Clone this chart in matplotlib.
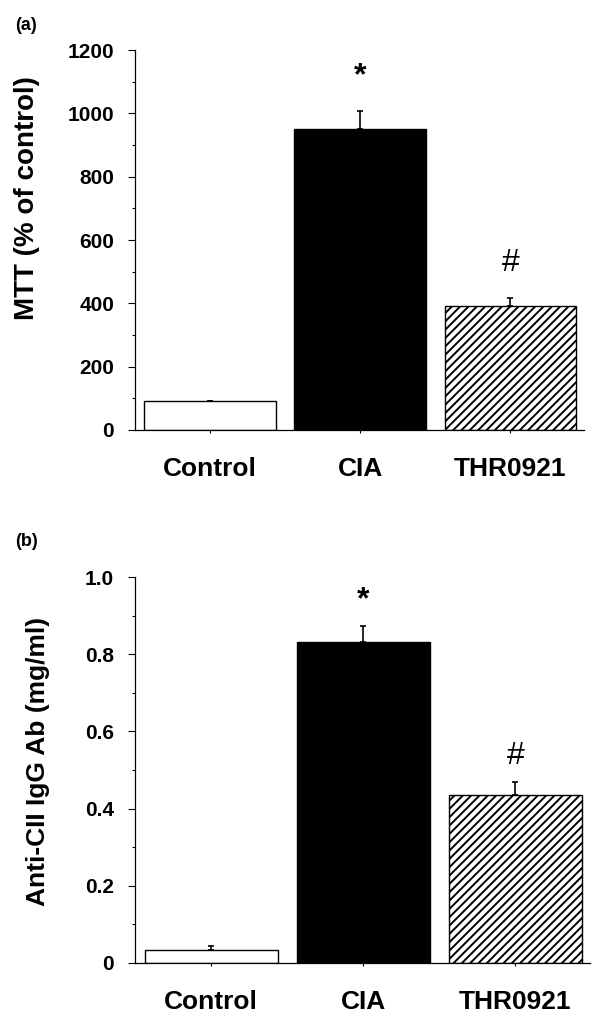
import matplotlib
matplotlib.use("Agg")
import matplotlib.pyplot as plt
from matplotlib.ticker import MultipleLocator

plt.rcParams['font.family'] = ['Liberation Sans', 'DejaVu Sans']
plt.rcParams['font.weight'] = 'bold'
plt.rcParams['hatch.linewidth'] = 1.4

groups = ["Control", "CIA", "THR0921"]

# panel (a): MTT (% of control)
mtt = [92, 952, 390]
mtt_err = [0, 56, 28]
mtt_marks = ["", "*", "#"]

# panel (b): anti-CII IgG Ab (mg/ml)
igg = [0.033, 0.832, 0.435]
igg_err = [0.010, 0.040, 0.035]
igg_marks = ["", "*", "#"]

fig = plt.figure(figsize=(6, 10.25), dpi=100)
ax1 = fig.add_axes([0.225, 0.5805, 0.748, 0.3707])
ax2 = fig.add_axes([0.225, 0.0605, 0.758, 0.3765])

colors = ["white", "black", "white"]
hatches = [None, None, "////"]


def draw(ax, vals, errs, marks, ylim, major, minor, ylabel, ylab_size,
         ylab_x, ylab_y, mark_pts, fmt):
    x = range(len(vals))
    for i in x:
        ax.bar(i, vals[i], width=0.875, color=colors[i], edgecolor="black",
               linewidth=1.0, hatch=hatches[i], zorder=2)
    ax.errorbar(list(x), vals, yerr=[[0] * len(errs), errs], fmt="none",
                ecolor="black", elinewidth=1.2, capsize=2.5, capthick=1.2, zorder=1)
    for i in x:
        if marks[i]:
            ax.annotate(marks[i], (i, vals[i] + errs[i]), xytext=(0, mark_pts),
                        textcoords="offset points", ha="center", va="baseline",
                        fontsize=23,
                        fontweight="bold" if marks[i] == "*" else "normal")
    ax.set_xlim(-0.5, 2.49)
    ax.set_ylim(*ylim)
    ax.yaxis.set_major_locator(MultipleLocator(major))
    ax.yaxis.set_minor_locator(MultipleLocator(minor))
    ax.yaxis.set_major_formatter(fmt)
    ax.set_xticks(list(x))
    ax.set_xticklabels(groups, fontsize=19, fontweight="bold")
    ax.tick_params(axis="x", length=2.5, width=0.8, pad=17)
    ax.tick_params(axis="y", which="major", length=5, width=0.8, labelsize=15, pad=10)
    ax.tick_params(axis="y", which="minor", length=2.5, width=0.8)
    for lbl in ax.get_yticklabels():
        lbl.set_fontweight("bold")
    ax.spines["top"].set_visible(False)
    ax.spines["right"].set_visible(False)
    ax.spines["left"].set_linewidth(0.9)
    ax.spines["bottom"].set_linewidth(0.9)
    ax.set_ylabel(ylabel, fontsize=ylab_size, fontweight="bold")
    ax.yaxis.label.set_va("center")
    ax.yaxis.set_label_coords(ylab_x, ylab_y)


draw(ax1, mtt, mtt_err, mtt_marks, (0, 1200), 200, 100,
     "MTT (% of control)", 20, -0.24, 0.61, 19, lambda v, p: f"{v:.0f}")
draw(ax2, igg, igg_err, igg_marks, (0, 1.0), 0.2, 0.1,
     "Anti-CII IgG Ab (mg/ml)", 19, -0.213, 0.523, 13,
     lambda v, p: "0" if v == 0 else f"{v:.1f}")

fig.text(0.025, 1 - 25 / 1025, "(a)", fontsize=13, fontweight="bold", va="center")
fig.text(0.025, 1 - 541 / 1025, "(b)", fontsize=13, fontweight="bold", va="center")

fig.savefig("out.png", dpi=100)
